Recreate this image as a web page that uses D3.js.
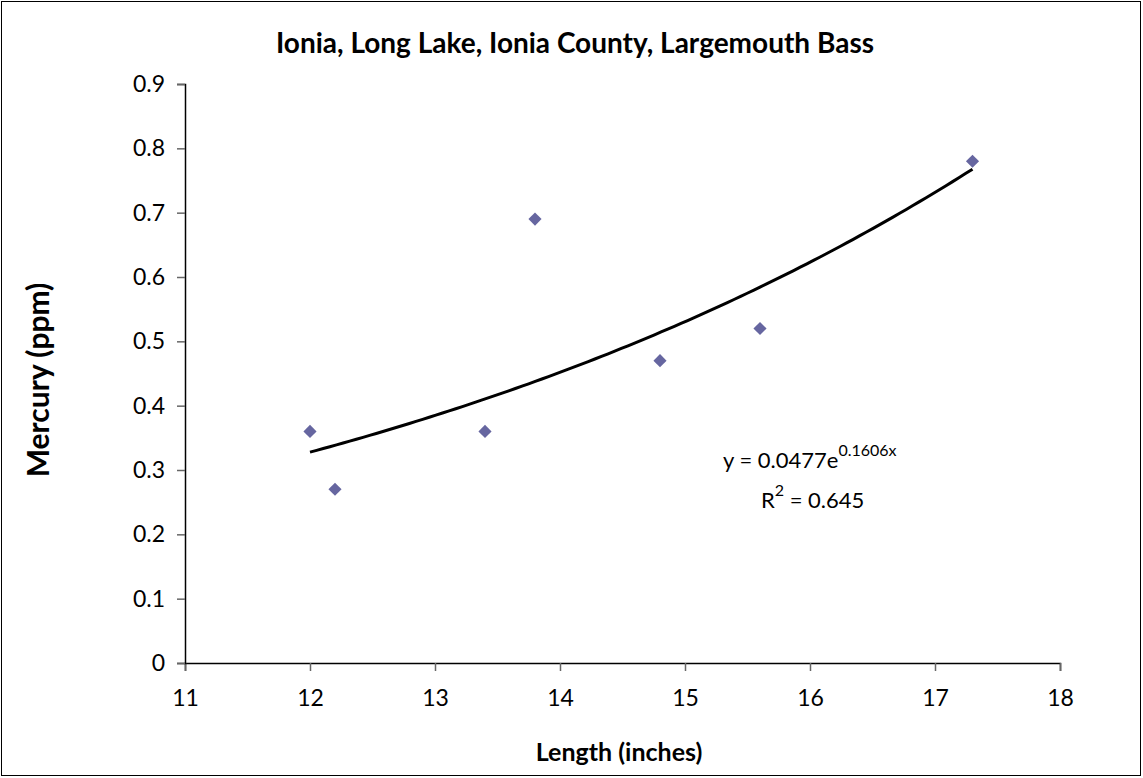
<!DOCTYPE html>
<html><head><meta charset="utf-8">
<script src="https://cdn.jsdelivr.net/npm/d3@7"></script>
<style>body{margin:0;background:#fff}svg{display:block}text{font-family:Lato,"Open Sans",sans-serif}</style>
</head><body><svg id="c" width="1143" height="778"></svg>
<script>
const lengths = [12, 12.2, 13.4, 13.8, 14.8, 15.6, 17.3];
const mercury = [0.36, 0.27, 0.36, 0.69, 0.47, 0.52, 0.78];
const xTicks = [11, 12, 13, 14, 15, 16, 17, 18];
const yTicks = [0, 0.1, 0.2, 0.3, 0.4, 0.5, 0.6, 0.7, 0.8, 0.9];
const trendA = 0.0477, trendB = 0.1606;
const trendRange = [12, 17.3];
const title = "Ionia, Long Lake, Ionia County, Largemouth Bass";

const svg = d3.select("#c");
svg.append("rect").attr("x",1.5).attr("y",1.5).attr("width",1139).attr("height",774)
  .attr("fill","#fff").attr("stroke","#000").attr("stroke-width",1);

const x = d3.scaleLinear().domain([11,18]).range([185,1060]);
const y = d3.scaleLinear().domain([0,0.9]).range([663,84]);

const xa = svg.append("g").attr("transform","translate(0,663)")
  .call(d3.axisBottom(x).tickValues(xTicks).tickSize(8).tickPadding(19).tickFormat(d3.format("d")));
const ya = svg.append("g").attr("transform","translate(185,0)")
  .call(d3.axisLeft(y).tickValues(yTicks).tickSize(8).tickPadding(12).tickFormat(d=>d===0?"0":d3.format(".1f")(d)));
[xa,ya].forEach(g=>{
  g.select(".domain").attr("stroke","#000").attr("stroke-width",1.5);
  g.selectAll(".tick line").attr("stroke","#666").attr("stroke-width",1.5);
  g.selectAll("text").attr("font-size",23).attr("fill","#000").style("font-family",'Lato,"Open Sans",sans-serif');
});

// trendline
const tx = d3.range(0,101).map(i=>trendRange[0]+(trendRange[1]-trendRange[0])*i/100);
svg.append("path").datum(tx)
  .attr("d", d3.line().x(d=>x(d)).y(d=>y(trendA*Math.exp(trendB*d))))
  .attr("fill","none").attr("stroke","#000").attr("stroke-width",3);

// markers
svg.selectAll(".pt").data(lengths.map((l,i)=>[l,mercury[i]])).enter()
  .append("path").attr("class","pt")
  .attr("transform",d=>`translate(${x(d[0])},${y(d[1])})`)
  .attr("d", d3.symbol(d3.symbolDiamond2, 110))
  .attr("fill","#6666a0");

// title and labels
svg.append("text").attr("x",575).attr("y",53).attr("text-anchor","middle")
  .attr("font-size",28).attr("font-weight","bold").text(title);
svg.append("text").attr("x",619).attr("y",761).attr("text-anchor","middle")
  .attr("font-size",25).attr("font-weight","bold").text("Length (inches)");
svg.append("text").attr("transform","translate(49,380) rotate(-90)").attr("text-anchor","middle")
  .attr("font-size",30).attr("font-weight","bold").text("Mercury (ppm)");

// equation
const eq = svg.append("text").attr("x",723).attr("y",468).attr("font-size",22);
eq.append("tspan").text("y = "+trendA+"e");
eq.append("tspan").attr("dy",-12).attr("font-size",16).text(trendB+"x");
const r2 = svg.append("text").attr("x",761).attr("y",508).attr("font-size",22);
r2.append("tspan").text("R");
r2.append("tspan").attr("dy",-12).attr("font-size",16).text("2");
r2.append("tspan").attr("dy",12).text(" = 0.645");
</script></body></html>
